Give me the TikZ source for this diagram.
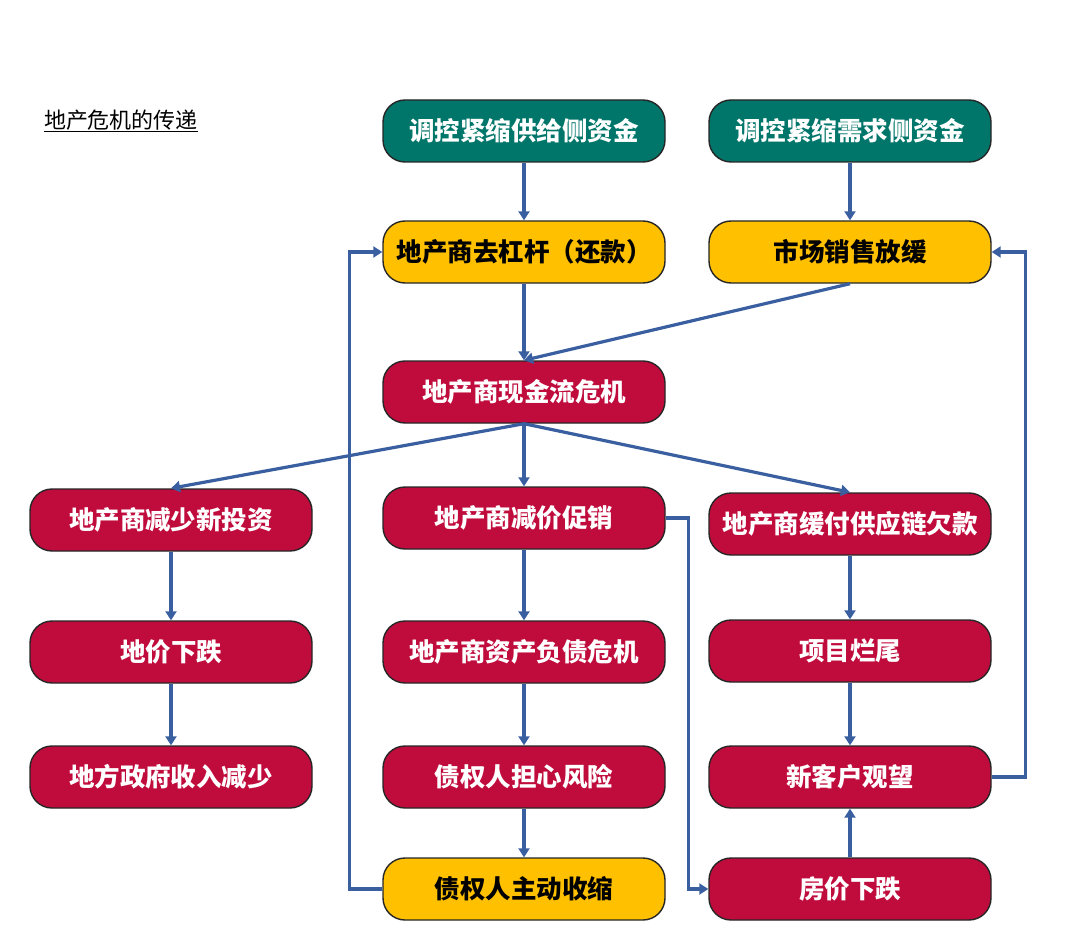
\documentclass[tikz,border=0pt]{standalone}
\usepackage{fontspec}
\setmainfont{Noto Sans CJK SC}
\usetikzlibrary{arrows.meta}
\definecolor{tealbox}{HTML}{00766A}
\definecolor{yellowbox}{HTML}{FFC000}
\definecolor{redbox}{HTML}{C00C3C}
\definecolor{arrowblue}{HTML}{3A5FA0}
\tikzset{
  box/.style={draw=black!85, line width=1.4pt, rounded corners=22pt,
    minimum width=282pt, minimum height=62pt, inner sep=0pt,
    font=\fontsize{25.5}{28}\selectfont\bfseries},
  tealnode/.style={box, fill=tealbox, text=white},
  yellownode/.style={box, fill=yellowbox, text=black},
  rednode/.style={box, fill=redbox, text=white},
  link/.style={draw=arrowblue, line width=3.2pt, -{Triangle[width=11pt,length=9pt]}}
}
\begin{document}
\begin{tikzpicture}[x=1pt,y=-1pt]
\useasboundingbox (0,0) rectangle (1080,947);
% title
\node (title) at (121,121) {\fontsize{22}{25}\selectfont\underline{地产危机的传递}};
% top rows
\node[tealnode] (supply) at (524,131) {调控紧缩供给侧资金};
\node[tealnode] (demand) at (850,131) {调控紧缩需求侧资金};
\node[yellownode] (delever) at (524,252) {地产商去杠杆（还款）};
\node[yellownode] (sales) at (850,252) {市场销售放缓};
\node[rednode] (cash) at (524,392) {地产商现金流危机};
% left column
\node[rednode] (invest) at (171,520) {地产商减少新投资};
\node[rednode] (land) at (171,652) {地价下跌};
\node[rednode] (gov) at (171,777) {地方政府收入减少};
% middle column
\node[rednode] (discount) at (524,518) {地产商减价促销};
\node[rednode] (balance) at (524,652) {地产商资产负债危机};
\node[rednode] (worry) at (524,777) {债权人担心风险};
\node[yellownode] (shrink) at (524,889) {债权人主动收缩};
% right column
\node[rednode] (supplier) at (850,524) {地产商缓付供应链欠款};
\node[rednode] (stall) at (850,651) {项目烂尾};
\node[rednode] (wait) at (850,777) {新客户观望};
\node[rednode] (house) at (850,889) {房价下跌};
% connectors
\draw[link] (supply) -- (delever);
\draw[link] (demand) -- (sales);
\draw[link] (delever) -- (cash);
\draw[link] (sales.south) -- (cash.north);
\draw[link] (cash.south) -- (invest.north);
\draw[link] (cash.south) -- (discount.north);
\draw[link] (cash.south) -- (supplier.north);
\draw[link] (invest) -- (land);
\draw[link] (land) -- (gov);
\draw[link] (discount) -- (balance);
\draw[link] (balance) -- (worry);
\draw[link] (worry) -- (shrink);
\draw[link] (supplier) -- (stall);
\draw[link] (stall) -- (wait);
\draw[link] (house) -- (wait);
\draw[link] (shrink.west) -- ++(-33,0) |- (delever.west);
\draw[link] (discount.east) -- ++(23,0) |- (house.west);
\draw[link] (wait.east) -- ++(34,0) |- (sales.east);
\end{tikzpicture}
\end{document}
